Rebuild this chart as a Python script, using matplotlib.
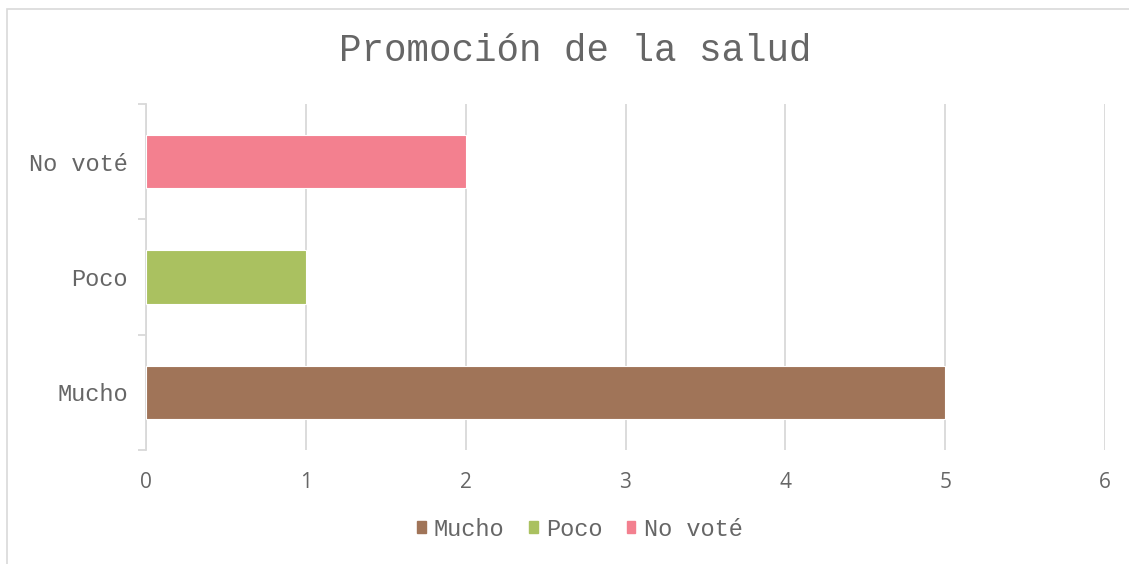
import matplotlib.pyplot as plt
from matplotlib.patches import Rectangle

# datos
categorias = ['Mucho', 'Poco', 'No voté']
votos = [5, 1, 2]
colores = ['#a07458', '#aac160', '#f3808f']

mono = 'Liberation Mono'
gris = '#666666'

fig = plt.figure(figsize=(11.29, 5.64), dpi=100)
ax = fig.add_axes([146 / 1129, 1 - 450 / 564, (1105 - 146) / 1129, (450 - 104) / 564])

# marco del grafico (sin borde derecho ni inferior visibles)
fig.patches.append(Rectangle((7 / 1129, -0.01), 1.1, 1 - 9 / 564 + 0.01,
                             transform=fig.transFigure, fill=False,
                             edgecolor='#d9d9d9', linewidth=1.2))

ax.barh(range(len(categorias)), votos, height=0.46, color=colores,
        edgecolor='white', linewidth=0.8, zorder=3)

ax.set_xlim(0, 6)
ax.set_ylim(-0.5, len(categorias) - 0.5)
ax.set_xticks(range(7))
ax.xaxis.grid(True, color='#d9d9d9', linewidth=1.3, zorder=0)
ax.tick_params(axis='x', length=0, pad=16, labelsize=15, labelcolor=gris)
for t in ax.get_xticklabels():
    t.set_fontfamily('Open Sans')

ax.set_yticks(range(len(categorias)))
ax.set_yticklabels(categorias, fontfamily=mono, fontsize=17, color=gris)
ax.set_yticks([-0.5, 0.5, 1.5, 2.5], minor=True)
ax.tick_params(axis='y', which='major', length=0, pad=13)
ax.tick_params(axis='y', which='minor', length=6, color='#d9d9d9', width=1.3)

for s in ['top', 'right', 'bottom']:
    ax.spines[s].set_visible(False)
ax.spines['left'].set_color('#d9d9d9')
ax.spines['left'].set_linewidth(1.3)

fig.text(575 / 1129, 1 - 51 / 564, 'Promoción de la salud', ha='center', va='center',
         fontfamily=mono, fontsize=27, color=gris)

handles = [Rectangle((0, 0), 1, 1, color=c) for c in colores]
fig.legend(handles, categorias, loc='center', bbox_to_anchor=(580 / 1129, 1 - 529 / 564),
           ncol=3, frameon=False, prop={'family': mono, 'size': 17},
           labelcolor=gris, handlelength=0.35, handleheight=0.35,
           handletextpad=0.35, columnspacing=1.05)

fig.savefig('out.png', dpi=100)
